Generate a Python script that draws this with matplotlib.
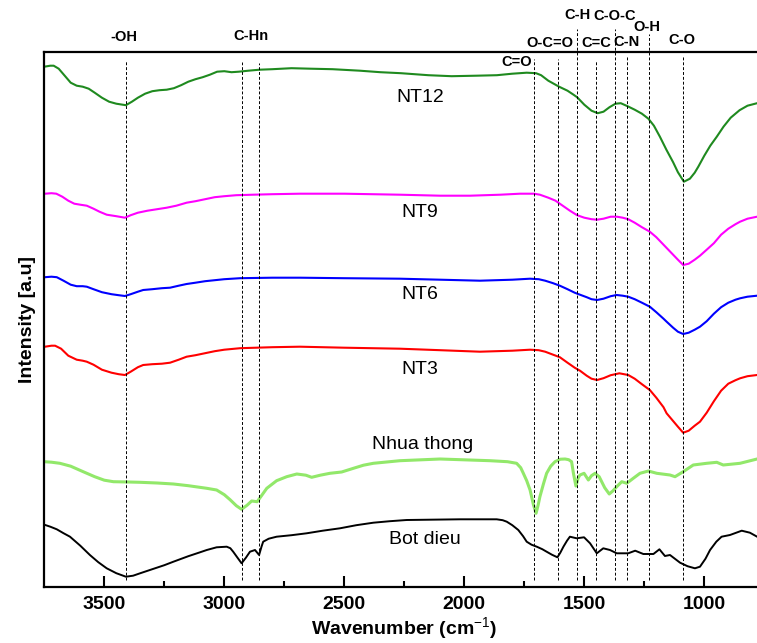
import matplotlib
import numpy as np
from matplotlib import pyplot as plt

matplotlib.rcParams.update(
    {
        "font.family": ["Liberation Sans", "DejaVu Sans"],
        "mathtext.fontset": "custom",
        "mathtext.rm": "Liberation Sans",
    }
)

# spectra: wavenumber (cm-1) and height (a.u., stacked)
nt12_wn = [3750, 3725, 3711, 3690, 3665, 3640, 3615, 3590, 3565, 3540, 3510, 3480,
           3450, 3410, 3385, 3360, 3330, 3300, 3270, 3240, 3210, 3180, 3150, 3120,
           3090, 3060, 3030, 3000, 2970, 2940, 2900, 2853, 2800, 2720, 2640, 2549,
           2435, 2350, 2264, 2150, 2053, 1950, 1864, 1800, 1740, 1701, 1680, 1650,
           1620, 1605, 1570, 1545, 1530, 1500, 1470, 1444, 1420, 1395, 1370, 1348,
           1320, 1290, 1260, 1233, 1210, 1185, 1158, 1130, 1110, 1085, 1060, 1040,
           1025, 1000, 975, 948, 920, 890, 853, 820, 780]
nt12_y = [520, 521, 521, 518, 511, 504, 501, 500, 498, 494, 489, 485,
          483, 481.5, 485, 489, 493, 495.5, 496.5, 497, 498.5, 501.5, 505, 507.5,
          509.5, 512, 515, 515.5, 514.5, 515, 516, 517, 517.5, 518.5, 518, 517.5,
          516, 514.5, 513.5, 511.5, 510.5, 511, 511.5, 513, 514, 513.5, 511.5, 506,
          502, 500, 496, 492, 489.5, 482, 476, 473.5, 475, 479.5, 483, 483.5,
          480.5, 477, 473, 468, 461, 450, 437, 424.5, 414.5, 405, 408, 414,
          420, 431, 441, 450, 460, 469, 476.5, 481, 483.5]

nt9_wn = [3747, 3720, 3700, 3675, 3650, 3625, 3600, 3573, 3545, 3520, 3490, 3450,
          3414, 3390, 3360, 3320, 3280, 3240, 3200, 3157, 3120, 3080, 3040, 3000,
          2950, 2880, 2800, 2685, 2500, 2268, 2100, 1976, 1850, 1768, 1710, 1685,
          1650, 1620, 1590, 1560, 1530, 1500, 1470, 1447, 1420, 1390, 1364, 1340,
          1317, 1290, 1260, 1227, 1200, 1170, 1140, 1110, 1088, 1065, 1040, 1018,
          990, 960, 930, 900, 870, 851, 820, 780]
nt9_y = [393, 393.5, 393, 390, 386, 383, 382, 381, 378, 375, 372, 370.5,
         369, 371.5, 374, 376, 377.5, 379, 381, 384, 385.5, 387.5, 389.5, 390.5,
         391.5, 392, 392.5, 393, 393, 392, 391, 391, 392, 393, 393, 392,
         389, 386, 381, 376, 371.5, 369, 367.5, 367, 368, 370, 370, 369,
         367.5, 364, 359.5, 355, 349.5, 342, 334.5, 327, 321.7, 323, 327, 331,
         337, 343.5, 352, 358, 362.5, 365, 368, 370]

nt6_wn = [3747, 3720, 3698, 3670, 3640, 3615, 3590, 3573, 3545, 3510, 3470, 3440,
          3414, 3390, 3360, 3338, 3300, 3260, 3226, 3190, 3157, 3120, 3080, 3040,
          3000, 2934, 2800, 2685, 2500, 2268, 2100, 1935, 1800, 1726, 1690, 1663,
          1630, 1602, 1570, 1540, 1518, 1490, 1470, 1447, 1420, 1390, 1365, 1340,
          1317, 1290, 1260, 1227, 1200, 1170, 1157, 1130, 1110, 1088, 1065, 1040,
          1018, 990, 960, 930, 900, 870, 851, 820, 780]
nt6_y = [309.5, 310, 309.5, 306, 302, 300.5, 300.5, 300, 297.5, 294.5, 292.5, 291.5,
         290.7, 292.5, 295, 296.7, 297.5, 298.5, 299, 301, 302.7, 304, 305.5, 306.5,
         307.5, 308.5, 309, 309, 308.5, 308, 307, 306, 307, 308, 307.5, 306,
         303.5, 301, 297.5, 294, 292, 289.5, 287.5, 286.7, 288, 290.5, 291.7, 291,
         290, 287.5, 284, 280, 274.5, 268, 265, 259, 255, 252.7, 254, 257,
         260, 265.5, 273, 279.5, 284, 287, 288.4, 290, 291]

nt3_wn = [3747, 3720, 3705, 3680, 3650, 3615, 3590, 3573, 3545, 3510, 3470, 3440,
          3414, 3390, 3360, 3338, 3300, 3260, 3226, 3190, 3157, 3120, 3080, 3040,
          3000, 2934, 2800, 2685, 2500, 2268, 2100, 1935, 1800, 1726, 1690, 1663,
          1630, 1602, 1570, 1540, 1518, 1490, 1470, 1447, 1420, 1390, 1354, 1317,
          1290, 1260, 1227, 1200, 1170, 1157, 1130, 1110, 1088, 1065, 1040, 1018,
          990, 960, 930, 900, 870, 851, 820, 780]
nt3_y = [240, 241, 241, 238, 231, 227, 226, 225, 222, 217, 214, 212.5,
         211.7, 215, 219.5, 221.7, 222.5, 223, 224, 227, 230, 231.5, 233.5, 235.5,
         237, 238.5, 239.5, 240, 239, 238, 236.5, 235, 236, 237, 236.5, 235,
         232, 229.5, 224, 219, 216, 211, 208, 206.7, 208.5, 211.5, 213.4, 211.7,
         208, 202.5, 196.7, 189, 179.5, 173.4, 165.7, 160, 154, 156, 161, 165,
         174, 185.5, 196, 203, 206.5, 208.4, 210.5, 211.7]

nhua_wn = [3750, 3720, 3685, 3640, 3588, 3540, 3500, 3462, 3400, 3351, 3280, 3212,
           3150, 3073, 3032, 3000, 2976, 2950, 2928, 2905, 2886, 2863, 2845, 2823,
           2782, 2740, 2698, 2660, 2636, 2600, 2560, 2511, 2462, 2420, 2379, 2268,
           2101, 1893, 1820, 1782, 1765, 1754, 1740, 1726, 1712, 1701, 1692, 1685,
           1670, 1657, 1640, 1622, 1600, 1580, 1565, 1553, 1545, 1535, 1525, 1518,
           1501, 1483, 1470, 1455, 1438, 1415, 1396, 1380, 1365, 1344, 1323, 1296,
           1268, 1233, 1198, 1143, 1122, 1088, 1046, 990, 948, 921, 851, 780]
nhua_y = [125, 124.5, 123.4, 120.5, 115, 110, 106.5, 105, 104.7, 104.4, 103.7, 102.7,
          101, 98.4, 96.7, 92, 87, 81, 77.4, 81.5, 85.7, 85, 91, 98.4,
          106, 110, 112.7, 111.5, 109.4, 111.5, 113.4, 114.7, 118.4, 121.5, 123.4, 126,
          127.7, 126, 125, 123.4, 119, 113.4, 106, 96.7, 82, 73.4, 82, 90,
          103, 113.4, 120.5, 125, 127.5, 127.7, 127, 125, 113, 100.7, 109, 111.7,
          113.4, 106.7, 111, 113.4, 110, 99, 92.7, 96, 100, 105, 103.4, 108.4,
          113.4, 115.7, 113.4, 111.7, 110, 115, 121.7, 123.4, 124.4, 121.7, 123.4, 127.7]

bot_wn = [3750, 3725, 3698, 3670, 3643, 3600, 3560, 3525, 3490, 3450, 3410, 3380,
          3351, 3300, 3250, 3212, 3150, 3100, 3073, 3032, 2990, 2975, 2963, 2945,
          2928, 2910, 2893, 2872, 2855, 2845, 2838, 2815, 2782, 2720, 2657, 2590,
          2518, 2450, 2379, 2310, 2240, 2018, 1865, 1840, 1823, 1800, 1775, 1755,
          1740, 1720, 1698, 1675, 1657, 1635, 1612, 1600, 1587, 1572, 1560, 1532,
          1501, 1476, 1448, 1421, 1393, 1365, 1317, 1288, 1254, 1212, 1187, 1164,
          1143, 1101, 1070, 1039, 1018, 995, 976, 950, 928, 893, 844, 810, 780]
bot_y = [62, 60, 57.4, 53.5, 50, 41, 31.7, 24.5, 18.4, 13.5, 10, 11,
         13.4, 17.5, 21.5, 25, 30.5, 34.5, 36.7, 39.4, 40, 38.5, 35, 29,
         23.4, 29, 35, 36.7, 31.7, 40, 45, 48, 50, 51.5, 53.4, 56,
         58.4, 61.5, 64, 65.5, 66.7, 67.4, 67.4, 66.5, 65, 61.5, 56.7, 50.5,
         45, 42, 40, 37.5, 35, 32, 29.4, 34, 40, 46, 50, 48.4,
         49.4, 43.4, 33.4, 38.4, 36.7, 33.4, 33.4, 36, 32.7, 32.7, 37.4, 30.7,
         31.7, 24, 20.5, 18.4, 20, 28, 36.7, 45, 50, 51.7, 56, 54, 50]

# band assignments: (label, wavenumber)
bands = [("-OH", 3410), ("C-Hn", 2925), ("C-Hn", 2855), ("C=O", 1710),
         ("O-C=O", 1610), ("C-H", 1530), ("C=C", 1450), ("C-O-C", 1370),
         ("C-N", 1320), ("O-H", 1230), ("C-O", 1090)]

series = [
    ("NT12", nt12_wn, nt12_y, "#1f8a1f", 1.5),
    ("NT9", nt9_wn, nt9_y, "#ff00ff", 1.5),
    ("NT6", nt6_wn, nt6_y, "#0000ff", 1.5),
    ("NT3", nt3_wn, nt3_y, "#ff0000", 1.5),
    ("Nhua thong", nhua_wn, nhua_y, "#92e86a", 2.2),
    ("Bot dieu", bot_wn, bot_y, "black", 1.4),
]

W, H = 757, 643
fig = plt.figure(figsize=(W / 100, H / 100), dpi=100)
ax = fig.add_axes([44.3 / W, 56.3 / H, 720 / W, 534.4 / H])

for name, wn, y, c, lw in series:
    ax.plot(wn, y, color=c, linewidth=lw, solid_joinstyle="round")

ax.set_xlim(3750, 750)
ax.set_ylim(0, 534.4)

# dashed marker lines (top in axes height units, some run above the frame)
line_tops = [526, 525, 524, 528, 528, 558, 527, 558, 532, 553, 531]
for (lab, wn), top in zip(bands, line_tops):
    ax.plot([wn, wn], [7, top], color="black", linestyle=(0, (3, 2)),
            linewidth=0.7, clip_on=False)

# label positions: (text, x in cm-1, y in axes height units)
band_text = [("-OH", 3420, 550), ("C-Hn", 2890, 551), ("C=O", 1780, 525),
             ("O-C=O", 1645, 544), ("C-H", 1530, 572), ("C=C", 1450, 544),
             ("C-O-C", 1375, 571), ("C-N", 1325, 545), ("O-H", 1240, 560),
             ("C-O", 1095, 547)]
for t, x, y in band_text:
    ax.text(x, y, t, ha="center", va="center", fontsize=10.5,
            fontweight="bold", clip_on=False)

name_pos = [(2185, 489), (2185, 374), (2185, 292), (2185, 217), (2175, 142), (2163, 47)]
for (name, *_), (x, y) in zip(series, name_pos):
    ax.text(x, y, name, ha="center", va="center", fontsize=14)

ax.set_xticks([3500, 3000, 2500, 2000, 1500, 1000])
ax.set_xticks(np.arange(3250, 700, -500), minor=True)
ax.set_yticks([])
ax.tick_params(axis="x", which="major", direction="in", length=8, width=1.5,
               labelsize=14, pad=7)
ax.tick_params(axis="x", which="minor", direction="in", length=4, width=1.5)
for lbl in ax.get_xticklabels():
    lbl.set_fontweight("bold")
for s in ax.spines.values():
    s.set_linewidth(1.6)

ax.set_xlabel("Wavenumber (cm$^{-1}$)", fontsize=14, fontweight="bold",
              labelpad=1.5)
ax.set_ylabel("Intensity [a.u]", fontsize=14, fontweight="bold", labelpad=6)

fig.savefig("out.png", dpi=100)
